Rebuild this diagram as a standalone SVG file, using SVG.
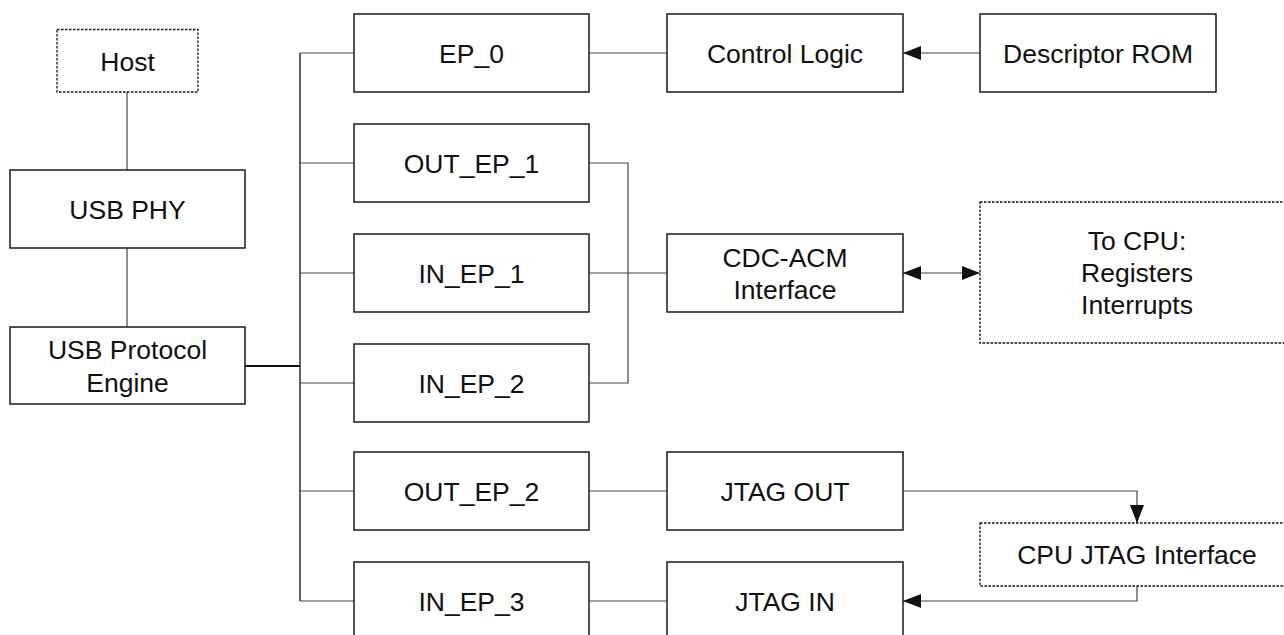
<svg xmlns="http://www.w3.org/2000/svg" width="1284" height="635" viewBox="0 0 1284 635">
<style>
.box{fill:#fff;stroke:#1a1a1a;stroke-width:1.5}
.dash{fill:#fff;stroke:#111;stroke-width:1.3;stroke-dasharray:2.5 1.5}
.t{font-family:"Liberation Sans",Arial,Helvetica,sans-serif;font-size:26.5px;fill:#111;text-anchor:middle}
.c{fill:none;stroke:#444;stroke-width:1.2}
.bus{fill:none;stroke:#111;stroke-width:1.3}
.thick{fill:none;stroke:#111;stroke-width:2}
</style>
<defs>
<marker id="ah" viewBox="0 0 18 14" refX="18" refY="7" markerWidth="18" markerHeight="14" markerUnits="userSpaceOnUse" orient="auto-start-reverse">
<path d="M0,0 L18,7 L0,14 Z" fill="#111"/>
</marker>
</defs>
<rect width="1284" height="635" fill="#fff"/>
<g id="connectors">
<line class="c" x1="127" y1="92" x2="127" y2="170"/>
<line class="c" x1="127" y1="248" x2="127" y2="327"/>
<line class="thick" x1="245" y1="366" x2="300" y2="366"/>
<line class="bus" x1="300" y1="53" x2="300" y2="601"/>
<line class="c" x1="300" y1="53" x2="354" y2="53"/>
<line class="c" x1="300" y1="163" x2="354" y2="163"/>
<line class="c" x1="300" y1="273" x2="354" y2="273"/>
<line class="c" x1="300" y1="383" x2="354" y2="383"/>
<line class="c" x1="300" y1="491" x2="354" y2="491"/>
<line class="c" x1="300" y1="601" x2="354" y2="601"/>
<line class="c" x1="589" y1="53" x2="667" y2="53"/>
<polyline class="c" points="589,163 628,163 628,383 589,383"/>
<line class="c" x1="589" y1="273" x2="667" y2="273"/>
<line class="c" x1="589" y1="491" x2="667" y2="491"/>
<line class="c" x1="589" y1="601" x2="667" y2="601"/>
<line class="c" x1="980" y1="53" x2="903" y2="53" marker-end="url(#ah)"/>
<line class="c" x1="903" y1="273" x2="980" y2="273" marker-start="url(#ah)" marker-end="url(#ah)"/>
<polyline class="c" points="903,491 1137,491 1137,523" marker-end="url(#ah)"/>
<polyline class="c" points="1137,586 1137,601 903,601" marker-end="url(#ah)"/>
</g>
<g id="host"><rect class="dash" x="57" y="29.5" width="141" height="62.5"/><text class="t" x="127.5" y="70.5">Host</text></g>
<g id="usb-phy"><rect class="box" x="10" y="170" width="235" height="78"/><text class="t" x="127.5" y="218.5">USB PHY</text></g>
<g id="usb-protocol-engine"><rect class="box" x="10" y="327" width="235" height="77"/><text class="t" x="127.5" y="359">USB Protocol</text><text class="t" x="127.5" y="391.5">Engine</text></g>
<g id="ep0"><rect class="box" x="354" y="14" width="235" height="78"/><text class="t" x="471.5" y="63">EP_0</text></g>
<g id="out-ep1"><rect class="box" x="354" y="124" width="235" height="78"/><text class="t" x="471.5" y="173">OUT_EP_1</text></g>
<g id="in-ep1"><rect class="box" x="354" y="234" width="235" height="78"/><text class="t" x="471.5" y="283">IN_EP_1</text></g>
<g id="in-ep2"><rect class="box" x="354" y="344" width="235" height="78"/><text class="t" x="471.5" y="393">IN_EP_2</text></g>
<g id="out-ep2"><rect class="box" x="354" y="452" width="235" height="78"/><text class="t" x="471.5" y="501">OUT_EP_2</text></g>
<g id="in-ep3"><rect class="box" x="354" y="562" width="235" height="78"/><text class="t" x="471.5" y="611">IN_EP_3</text></g>
<g id="control-logic"><rect class="box" x="667" y="14" width="236" height="78"/><text class="t" x="785" y="63">Control Logic</text></g>
<g id="descriptor-rom"><rect class="box" x="980" y="14" width="236" height="78"/><text class="t" x="1098" y="63">Descriptor ROM</text></g>
<g id="cdc-acm"><rect class="box" x="667" y="234" width="236" height="78"/><text class="t" x="785" y="267">CDC-ACM</text><text class="t" x="785" y="299">Interface</text></g>
<g id="to-cpu"><rect class="dash" x="980" y="202" width="320" height="141"/><text class="t" x="1137" y="250">To CPU:</text><text class="t" x="1137" y="282">Registers</text><text class="t" x="1137" y="314">Interrupts</text></g>
<g id="jtag-out"><rect class="box" x="667" y="452" width="236" height="78"/><text class="t" x="785" y="501">JTAG OUT</text></g>
<g id="cpu-jtag"><rect class="dash" x="980" y="523" width="320" height="63"/><text class="t" x="1137" y="563.5">CPU JTAG Interface</text></g>
<g id="jtag-in"><rect class="box" x="667" y="562" width="236" height="78"/><text class="t" x="785" y="611">JTAG IN</text></g>
</svg>
